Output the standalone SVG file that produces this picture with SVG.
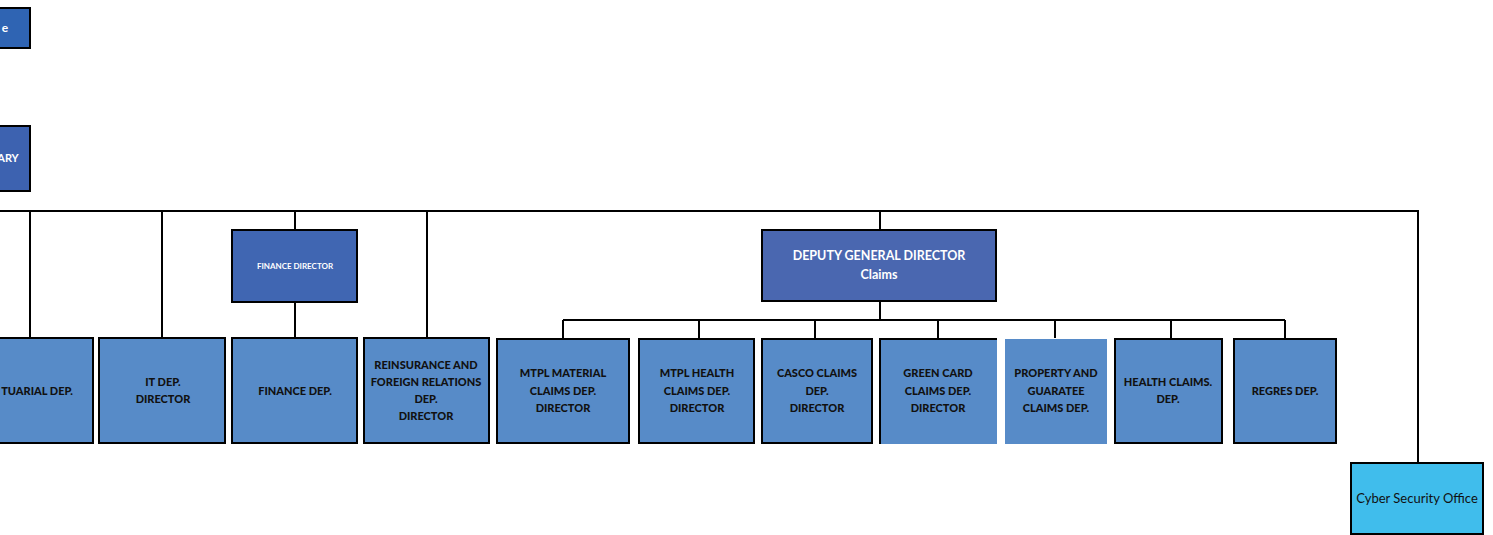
<svg xmlns="http://www.w3.org/2000/svg" width="1493" height="535" viewBox="0 0 1493 535">
<style>
.dep{fill:#578bc8;stroke:#000;stroke-width:2}
.nb{fill:#578bc8}
.hd{stroke:#000;stroke-width:2}
.t{font-family:Lato,"Open Sans","Liberation Sans",sans-serif;font-weight:900;font-size:11px;fill:#111;text-anchor:middle}
.w{font-family:Lato,"Open Sans","Liberation Sans",sans-serif;font-weight:bold;fill:#fff;text-anchor:middle}
.c{stroke:#000;stroke-width:2;fill:none}
</style>
<rect width="1493" height="535" fill="#fff"/>
<g id="connectors">
<path class="c" d="M0 211H1418V463M30 211V338M162 211V338M295 211V230M295 302V338M427 211V338M880 211V230M880 301V320M563 320H1285M563 320V338M699 320V338M815 320V338M938 320V338M1055 320V338M1171 320V338M1285 320V338"/>
</g>
<g id="top1"><rect x="-5" y="8" width="35" height="40" fill="#2f64b3" class="hd"/><text class="w" x="5" y="32" font-size="12">e</text></g>
<g id="top2"><rect x="-5" y="126" width="35" height="65" fill="#3d62b0" class="hd"/><text class="w" x="8" y="162" font-size="11">ARY</text></g>
<g id="finance-director"><rect x="232" y="230" width="125" height="72" fill="#4066b2" class="hd"/><text class="w" x="295" y="269" font-size="8">FINANCE DIRECTOR</text></g>
<g id="deputy"><rect x="762" y="230" width="234" height="71" fill="#4a67b0" class="hd"/><text class="w" x="879" y="260" font-size="12.5">DEPUTY GENERAL DIRECTOR</text><text class="w" x="879" y="279" font-size="12.5">Claims</text></g>
<g id="actuarial"><rect class="dep" x="-5" y="338" width="98" height="105"/><text class="t" x="73" y="395" text-anchor="end" style="text-anchor:end">TUARIAL DEP.</text></g>
<g id="it"><rect class="dep" x="99" y="338" width="126" height="105"/><text class="t" x="163" y="386">IT  DEP.</text><text class="t" x="163" y="403">DIRECTOR</text></g>
<g id="finance"><rect class="dep" x="232" y="338" width="125" height="105"/><text class="t" x="295" y="395">FINANCE DEP.</text></g>
<g id="reinsurance"><rect class="dep" x="364" y="338" width="125" height="105"/><text class="t" x="426" y="369">REINSURANCE AND</text><text class="t" x="426" y="386">FOREIGN RELATIONS</text><text class="t" x="426" y="403">DEP.</text><text class="t" x="426" y="420">DIRECTOR</text></g>
<g id="mtpl-material"><rect class="dep" x="497" y="339" width="132" height="104"/><text class="t" x="563" y="377">MTPL MATERIAL</text><text class="t" x="563" y="395">CLAIMS  DEP.</text><text class="t" x="563" y="412">DIRECTOR</text></g>
<g id="mtpl-health"><rect class="dep" x="639" y="339" width="115" height="104"/><text class="t" x="697" y="377">MTPL HEALTH</text><text class="t" x="697" y="395">CLAIMS DEP.</text><text class="t" x="697" y="412">DIRECTOR</text></g>
<g id="casco"><rect class="dep" x="762" y="339" width="110" height="104"/><text class="t" x="817" y="377">CASCO CLAIMS</text><text class="t" x="817" y="395">DEP.</text><text class="t" x="817" y="412">DIRECTOR</text></g>
<g id="green-card"><rect class="nb" x="880" y="339" width="117" height="105"/><path class="c" d="M880 444V339H997"/><text class="t" x="938" y="377">GREEN CARD</text><text class="t" x="938" y="395">CLAIMS DEP.</text><text class="t" x="938" y="412">DIRECTOR</text></g>
<g id="property"><rect class="nb" x="1005" y="339" width="102" height="105"/><text class="t" x="1056" y="377">PROPERTY AND</text><text class="t" x="1056" y="395">GUARATEE</text><text class="t" x="1056" y="412">CLAIMS DEP.</text></g>
<g id="health"><rect class="dep" x="1115" y="339" width="107" height="104"/><text class="t" x="1168" y="386">HEALTH CLAIMS.</text><text class="t" x="1168" y="403">DEP.</text></g>
<g id="regres"><rect class="dep" x="1234" y="339" width="102" height="104"/><text class="t" x="1285" y="395">REGRES DEP.</text></g>
<g id="cyber"><rect x="1351" y="463" width="132" height="71" fill="#40bdec" class="hd"/><text x="1417" y="503" font-family="Lato,'Open Sans','Liberation Sans',sans-serif" font-size="13" fill="#111" text-anchor="middle">Cyber Security Office</text></g>
</svg>
